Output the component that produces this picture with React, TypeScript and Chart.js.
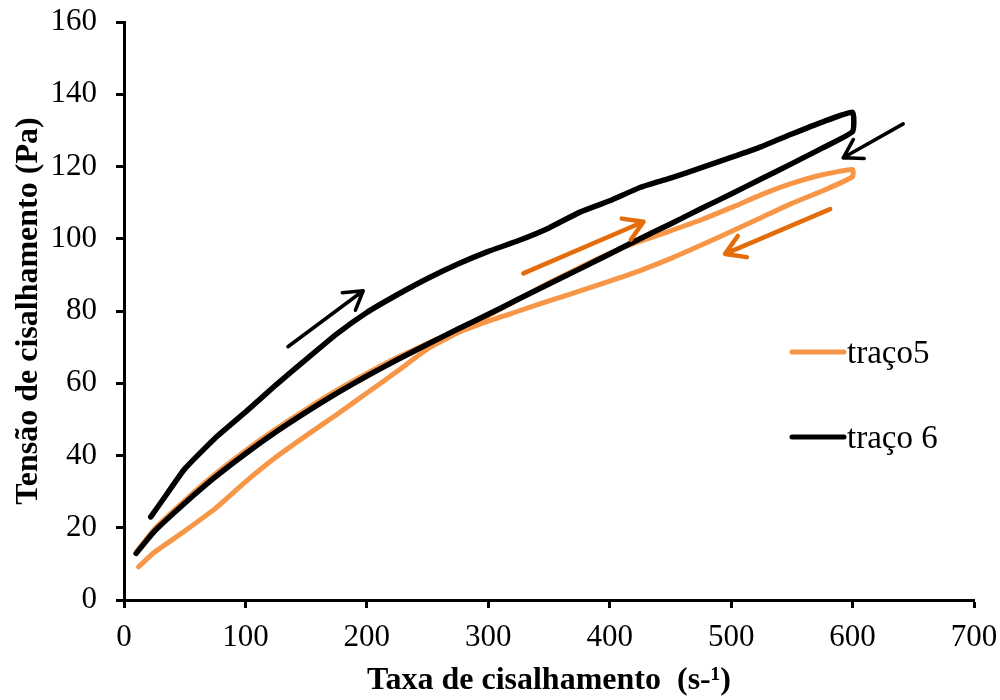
import React, { useEffect, useRef } from "react";
import { Chart, registerables } from "chart.js";

Chart.register(...registerables);

// ---- data ----
const xTicks = [0, 100, 200, 300, 400, 500, 600, 700];
const yTicks = [0, 20, 40, 60, 80, 100, 120, 140, 160];

// traço 6 (black): up curve then down curve
const traco6X = [
  22, 35, 50, 75, 100, 125, 150, 175, 200, 225, 250, 275, 300, 325, 350, 375, 400, 425, 450, 475, 500, 525, 550, 575, 600,
  600, 575, 550, 525, 500, 475, 450, 425, 400, 375, 350, 325, 300, 275, 250, 225, 200, 175, 150, 125, 100, 75, 50, 25, 10,
];
const traco6Y = [
  23, 29.2, 36.3, 44.8, 52, 59.5, 66.6, 73.6, 79.6, 84.5, 89, 93, 96.5, 99.5, 103, 107.3, 110.5, 114.2, 116.8, 119.6, 122.5, 125.5, 129, 132.3, 135,
  129.7, 125.1, 120.8, 116.6, 112.4, 108.3, 104.1, 100, 95.8, 91.6, 87.5, 83.3, 79.1, 75, 70.8, 66.5, 62, 57.2, 52, 46.5, 40.5, 34, 26.8, 19, 12.9,
];

// traço5 (orange): up curve then down curve
const traco5X = [
  10, 25, 50, 75, 100, 125, 150, 175, 200, 225, 250, 275, 300, 325, 350, 375, 400, 425, 450, 475, 500, 525, 550, 575, 600,
  600, 575, 550, 525, 500, 475, 450, 425, 400, 375, 350, 325, 300, 275, 250, 225, 200, 175, 150, 125, 100, 75, 50, 25, 12,
];
const traco5Y = [
  13.2, 19.6, 27.5, 34.8, 41.3, 47.3, 52.8, 58, 62.7, 67.1, 71, 74.8, 78.7, 83.3, 87.8, 92, 96, 99.3, 102.2, 105.2, 108.6, 112.2, 115.3, 117.7, 119.2,
  117.2, 113.2, 109.8, 105.9, 102, 98.2, 94.5, 91.2, 88.3, 85.5, 82.8, 80, 77.2, 74, 69.5, 63.3, 57.3, 51.3, 45.5, 39.5, 32.7, 25.3, 19.1, 13.2, 9.2,
];

const seriesNames = ["traço5", "traço 6"];

// direction arrows (data coordinates)
const arrowFromX = [135, 641.7, 328.9, 581.5];
const arrowFromY = [70.1, 131.8, 90.4, 108.2];
const arrowToX = [197, 592.3, 427.8, 495];
const arrowToY = [85.6, 122.4, 104.7, 95.8];
const arrowSeries = [1, 1, 0, 0];

// ---- styles ----
const FONT = "'Liberation Serif', 'Times New Roman', serif";
const ORANGE = "#F79646";
const DARK_ORANGE = "#E46C0A";
const BLACK = "#000000";

function drawArrow(ctx: CanvasRenderingContext2D, x1: number, y1: number, x2: number, y2: number, color: string, width: number, head: number) {
  ctx.save();
  ctx.strokeStyle = color;
  ctx.lineWidth = width;
  ctx.lineCap = "round";
  ctx.lineJoin = "round";
  ctx.beginPath();
  ctx.moveTo(x1, y1);
  ctx.lineTo(x2, y2);
  const a = Math.atan2(y2 - y1, x2 - x1);
  ctx.moveTo(x2 - head * Math.cos(a - 0.55), y2 - head * Math.sin(a - 0.55));
  ctx.lineTo(x2, y2);
  ctx.lineTo(x2 - head * Math.cos(a + 0.55), y2 - head * Math.sin(a + 0.55));
  ctx.stroke();
  ctx.restore();
}

const arrowsPlugin = {
  id: "arrows",
  afterDatasetsDraw(chart: any) {
    const { ctx, scales } = chart;
    for (let i = 0; i < arrowFromX.length; i++) {
      const black = arrowSeries[i] === 1;
      drawArrow(
        ctx,
        scales.x.getPixelForValue(arrowFromX[i]),
        scales.y.getPixelForValue(arrowFromY[i]),
        scales.x.getPixelForValue(arrowToX[i]),
        scales.y.getPixelForValue(arrowToY[i]),
        black ? BLACK : DARK_ORANGE,
        black ? 3.5 : 4.5,
        black ? 21 : 22
      );
    }
  },
};

const legendPlugin = {
  id: "customLegend",
  afterDraw(chart: any) {
    const { ctx, chartArea } = chart;
    const colors = [ORANGE, BLACK];
    const x0 = chartArea.left + 668;
    const ys = [chartArea.top + 330, chartArea.top + 415];
    ctx.save();
    for (let i = 0; i < seriesNames.length; i++) {
      ctx.strokeStyle = colors[i];
      ctx.lineWidth = 5;
      ctx.lineCap = "round";
      ctx.beginPath();
      ctx.moveTo(x0, ys[i]);
      ctx.lineTo(x0 + 52, ys[i]);
      ctx.stroke();
      ctx.fillStyle = "#000";
      ctx.font = `33px ${FONT}`;
      ctx.textAlign = "left";
      ctx.textBaseline = "middle";
      ctx.fillText(seriesNames[i], x0 + 55, ys[i] + 2);
    }
    ctx.restore();
  },
};

function toPoints(xs: number[], ys: number[]) {
  return xs.map((x, i) => ({ x, y: ys[i] }));
}

export default function App() {
  const ref = useRef<HTMLCanvasElement>(null);
  useEffect(() => {
    document.body.style.margin = "0";
    const tickFont = { family: FONT, size: 31 };
    const titleFont = { family: FONT, size: 32, weight: "bold" as const };
    const chart = new Chart(ref.current as HTMLCanvasElement, {
      type: "line",
      data: {
        datasets: [
          {
            label: seriesNames[0],
            data: toPoints(traco5X, traco5Y),
            borderColor: ORANGE,
            backgroundColor: ORANGE,
            borderWidth: 5,
            pointRadius: 0,
            tension: 0.15,
            fill: false,
            borderCapStyle: "round",
            borderJoinStyle: "round",
            order: 1,
          },
          {
            label: seriesNames[1],
            data: toPoints(traco6X, traco6Y),
            borderColor: BLACK,
            backgroundColor: BLACK,
            borderWidth: 5.5,
            pointRadius: 0,
            tension: 0.15,
            fill: false,
            borderCapStyle: "round",
            borderJoinStyle: "miter",
            order: 0,
          },
        ],
      },
      options: {
        responsive: false,
        animation: false,
        devicePixelRatio: 1,
        layout: { padding: { top: 22, right: 26, left: 0, bottom: 0 }, autoPadding: false },
        plugins: { legend: { display: false }, tooltip: { enabled: false }, title: { display: false } },
        scales: {
          x: {
            type: "linear",
            min: 0,
            max: 700,
            afterBuildTicks: (s: any) => {
              s.ticks = xTicks.map((v) => ({ value: v }));
            },
            ticks: { color: "#000", font: tickFont, padding: 11, maxRotation: 0, autoSkip: false },
            grid: { drawOnChartArea: false, tickLength: 8, tickColor: "#000", tickWidth: 3 },
            border: { color: "#000", width: 3 },
            title: {
              display: true,
              text: "Taxa de cisalhamento  (s-¹)",
              color: "#000",
              font: titleFont,
              padding: { top: 0, bottom: 0 },
            },
            afterFit: (s: any) => {
              s.height = 100;
              s.paddingLeft = 0;
              s.paddingRight = 0;
            },
          },
          y: {
            type: "linear",
            min: 0,
            max: 160,
            afterBuildTicks: (s: any) => {
              s.ticks = yTicks.map((v) => ({ value: v }));
            },
            ticks: { color: "#000", font: tickFont, padding: 19, autoSkip: false },
            grid: { drawOnChartArea: false, tickLength: 8, tickColor: "#000", tickWidth: 3 },
            border: { color: "#000", width: 3 },
            title: {
              display: true,
              text: "Tensão de cisalhamento (Pa)",
              color: "#000",
              font: titleFont,
              padding: { top: 10, bottom: 0 },
            },
            afterFit: (s: any) => {
              s.width = 124;
              s.paddingTop = 0;
              s.paddingBottom = 0;
            },
          },
        },
      } as any,
      plugins: [arrowsPlugin, legendPlugin],
    });
    return () => chart.destroy();
  }, []);
  return <canvas ref={ref} width={1000} height={700} style={{ display: "block" }} />;
}
